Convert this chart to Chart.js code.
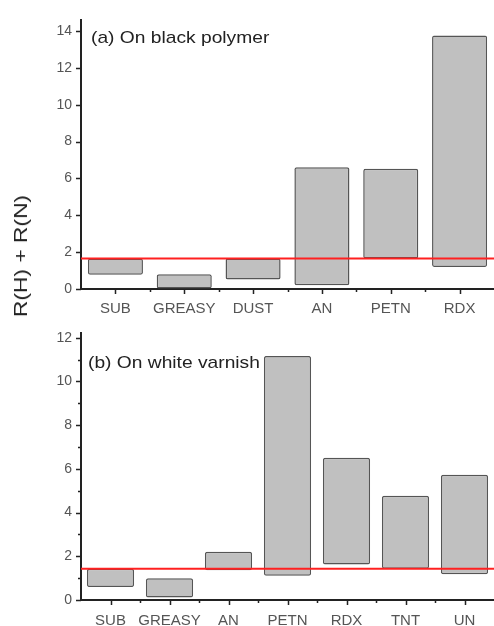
<!DOCTYPE html>
<html>
<head>
<meta charset="utf-8">
<script src="https://cdn.jsdelivr.net/npm/chart.js@4"></script>
<style>
  body { margin:0; background:#fff; font-family:"Liberation Sans", Arial, sans-serif; }
  #wrap { position:relative; width:494px; height:626px; overflow:hidden; }
  canvas { position:absolute; left:0; }
  .ptitle { position:absolute; font-size:17px; color:#222; white-space:nowrap; transform-origin:left center; transform:scaleX(1.13); }
  #ylab { position:absolute; left:21px; top:256px; font-size:19px; color:#222; white-space:nowrap;
          transform:translate(-50%,-50%) rotate(-90deg) scaleX(1.2); }
</style>
</head>
<body>
<div id="wrap">
  <canvas id="chartA" width="494" height="316" style="top:0"></canvas>
  <canvas id="chartB" width="494" height="310" style="top:316px"></canvas>
  <div class="ptitle" style="left:91px;top:28px">(a) On black polymer</div>
  <div class="ptitle" style="left:88px;top:353px">(b) On white varnish</div>
  <div id="ylab">R(H) + R(N)</div>
</div>
<script>
// (a) black polymer
const catsA = ['SUB', 'GREASY', 'DUST', 'AN', 'PETN', 'RDX'];
const lowA  = [0.78, 0.0, 0.51, 0.2, 1.65, 1.2];
const highA = [1.65, 0.8, 1.65, 6.61, 6.52, 13.76];
const thresholdA = 1.66;
const yMaxA = 14.6;

// (b) white varnish
const catsB = ['SUB', 'GREASY', 'AN', 'PETN', 'RDX', 'TNT', 'UN'];
const lowB  = [0.59, 0.12, 1.36, 1.11, 1.62, 1.43, 1.18];
const highB = [1.43, 1.0, 2.21, 11.17, 6.51, 4.77, 5.73];
const thresholdB = 1.43;
const yMaxB = 12.2;

const AXIS = '#222';

// tick marks like the Origin plot: long at labels, short in between
const tickMarks = {
  id: 'tickMarks',
  afterDraw(chart) {
    const { ctx, chartArea: a, scales: { x, y } } = chart;
    ctx.save();
    ctx.strokeStyle = AXIS;
    ctx.lineWidth = 1.5;
    ctx.beginPath();
    y.ticks.forEach(t => {
      const py = Math.round(y.getPixelForValue(t.value)) + 0.5;
      const len = t.value % 2 === 0 ? 5 : 3;
      ctx.moveTo(a.left, py); ctx.lineTo(a.left - len, py);
    });
    const n = chart.data.labels.length;
    for (let i = 0; i < n; i++) {
      const px = Math.round(x.getPixelForValue(i)) + 0.5;
      ctx.moveTo(px, a.bottom); ctx.lineTo(px, a.bottom + 5);
      if (i < n - 1) {
        const mx = Math.round((x.getPixelForValue(i) + x.getPixelForValue(i + 1)) / 2) + 0.5;
        ctx.moveTo(mx, a.bottom); ctx.lineTo(mx, a.bottom + 3);
      }
    }
    ctx.stroke();
    ctx.restore();
  }
};

// red reference line across the whole plot
const refLine = {
  id: 'refLine',
  afterDatasetsDraw(chart, args, opts) {
    const { ctx, chartArea: a, scales: { y } } = chart;
    const py = y.getPixelForValue(opts.value);
    ctx.save();
    ctx.strokeStyle = '#ff2020';
    ctx.lineWidth = 2;
    ctx.beginPath();
    ctx.moveTo(a.left, py); ctx.lineTo(a.right, py);
    ctx.stroke();
    ctx.restore();
  }
};

function makePanel(id, cats, low, high, threshold, yMax, padTop, xHeight, labelPad) {
  return new Chart(document.getElementById(id), {
    type: 'bar',
    data: {
      labels: cats,
      datasets: [{
        data: cats.map((c, i) => [low[i], high[i]]),
        backgroundColor: '#c0c0c0',
        borderColor: '#555',
        borderWidth: 1.5,
        borderSkipped: false,
        borderRadius: 2,
        categoryPercentage: 0.8,
        barPercentage: 1
      }]
    },
    options: {
      responsive: false,
      animation: false,
      layout: { padding: { top: padTop, right: 0, bottom: 0, left: 0 } },
      plugins: { legend: { display: false }, tooltip: { enabled: false }, refLine: { value: threshold } },
      scales: {
        x: {
          offset: true,
          grid: { display: true, drawOnChartArea: false, drawTicks: false },
          border: { display: true, color: AXIS, width: 2 },
          ticks: {
            padding: labelPad, color: '#555', autoSkip: false, maxRotation: 0, minRotation: 0,
            font: { family: 'Liberation Sans', size: 15 }
          },
          afterFit: s => { s.height = xHeight; }
        },
        y: {
          min: 0, max: yMax,
          grid: { display: true, drawOnChartArea: false, drawTicks: false },
          border: { display: true, color: AXIS, width: 2 },
          ticks: {
            stepSize: 1, padding: 9, color: '#555',
            font: { family: 'Liberation Sans', size: 14 },
            callback: v => (v % 2 === 0 ? v : '')
          },
          // integer ticks only (0 .. floor(max)), labels on the even ones
          afterBuildTicks: s => {
            const t = [];
            for (let v = 0; v <= Math.floor(yMax); v++) t.push({ value: v });
            s.ticks = t;
          },
          afterFit: s => { s.width = 81; }
        }
      }
    },
    plugins: [tickMarks, refLine]
  });
}

makePanel('chartA', catsA, lowA, highA, thresholdA, yMaxA, 20, 27, 11);
makePanel('chartB', catsB, lowB, highB, thresholdB, yMaxB, 8, 26, 12);
</script>
</body>
</html>
